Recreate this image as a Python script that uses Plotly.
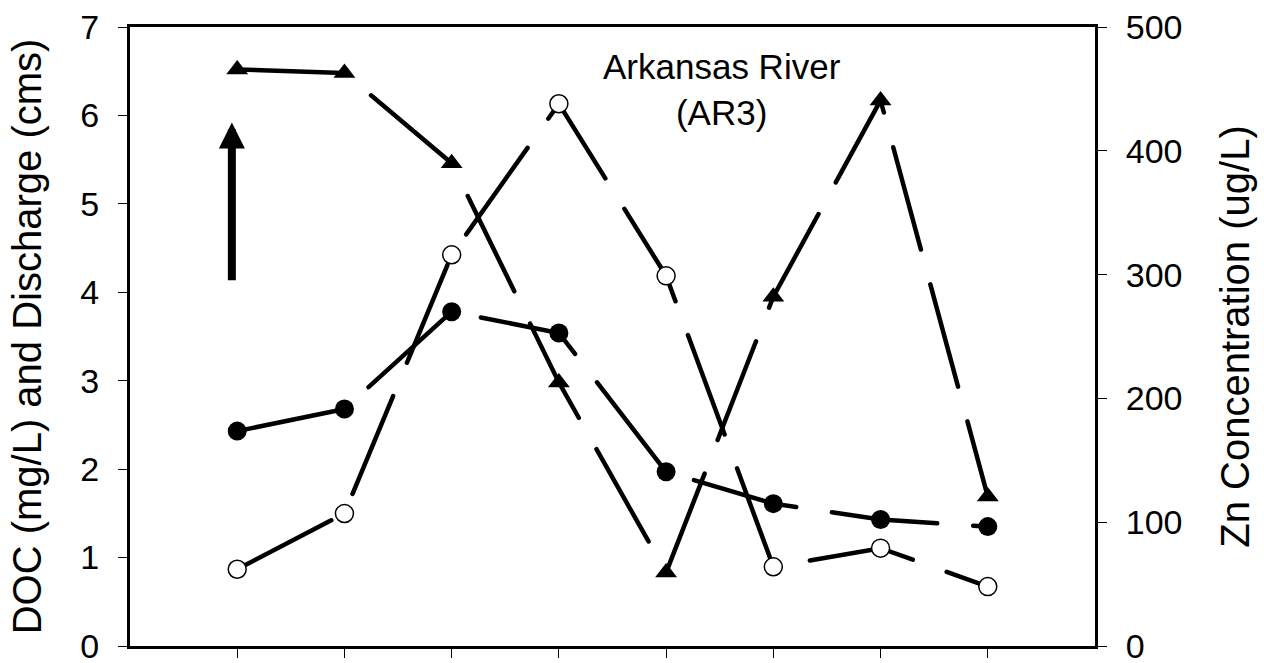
import plotly.graph_objects as go

# Sampling events (x positions, no labels shown)
events = [1, 2, 3, 4, 5, 6, 7, 8]

# DOC (mg/L) - filled circles, left axis
doc_mgL = [2.43, 2.68, 3.78, 3.54, 1.97, 1.61, 1.43, 1.35]

# Discharge (cms) - filled triangles, left axis
discharge_cms = [6.52, 6.48, 5.46, 2.98, 0.83, 3.95, 6.17, 1.69]

# Zn concentration (ug/L) - open circles, right axis
zn_ugL = [62, 107, 316, 438, 299, 64, 79, 48]

left_ticks = [0, 1, 2, 3, 4, 5, 6, 7]
right_ticks = [0, 100, 200, 300, 400, 500]

FONT = "Liberation Sans, Arial, sans-serif"
DASH = "106px,36px"

fig = go.Figure()

fig.add_trace(go.Scatter(
    x=events, y=zn_ugL, yaxis="y2", mode="lines+markers", name="Zn",
    line=dict(color="black", width=4.5, dash=DASH),
    marker=dict(symbol="circle", size=18, color="white",
                line=dict(color="black", width=1.5)),
))
fig.add_trace(go.Scatter(
    x=events, y=discharge_cms, mode="lines+markers", name="Discharge",
    line=dict(color="black", width=4.5, dash=DASH),
    marker=dict(symbol="triangle-up", size=19, color="black",
                line=dict(width=0)),
))
fig.add_trace(go.Scatter(
    x=events, y=doc_mgL, mode="lines+markers", name="DOC",
    line=dict(color="black", width=4.5, dash=DASH),
    marker=dict(symbol="circle", size=19, color="black",
                line=dict(width=0)),
))

fig.add_annotation(
    x=5.52, y=6.29, xref="x", yref="y",
    text="Arkansas River<br>(AR3)", showarrow=False,
    font=dict(family=FONT, size=35, color="black"),
)

fig.add_annotation(
    x=0.95, y=5.92, ax=0.95, ay=4.12, xref="x", yref="y",
    axref="x", ayref="y", text="", showarrow=True,
    arrowhead=2, arrowsize=0.65, arrowwidth=8, arrowcolor="black",
)

fig.update_layout(
    width=1264, height=663,
    margin=dict(l=130, r=169, t=27, b=17, autoexpand=False),
    paper_bgcolor="white", plot_bgcolor="white",
    showlegend=False,
    font=dict(family=FONT, color="black"),
    xaxis=dict(
        range=[0, 9], tickvals=events, showticklabels=False,
        ticks="outside", ticklen=9, tickwidth=1, tickcolor="black",
        showline=True, linewidth=3, linecolor="black", mirror=True,
        showgrid=False, zeroline=False, automargin=False,
    ),
    yaxis=dict(
        range=[0, 7], tickvals=left_ticks,
        ticks="outside", ticklen=9, tickwidth=1, tickcolor="black",
        showline=True, linewidth=3, linecolor="black",
        showgrid=False, zeroline=False, automargin=False,
        tickfont=dict(size=34, family=FONT),
        ticklabelstandoff=12, ticklabeloverflow="allow",
        title=dict(text="DOC (mg/L) and Discharge (cms)",
                   font=dict(size=40, family=FONT), standoff=27),
    ),
    yaxis2=dict(
        range=[0, 500], tickvals=right_ticks, overlaying="y", side="right",
        ticks="outside", ticklen=9, tickwidth=1, tickcolor="black",
        showline=True, linewidth=3, linecolor="black",
        showgrid=False, zeroline=False, automargin=False,
        tickfont=dict(size=34, family=FONT),
        ticklabelstandoff=12, ticklabeloverflow="allow",
        title=dict(text="Zn Concentration (ug/L)",
                   font=dict(size=40, family=FONT), standoff=40),
    ),
)

post = ("document.body.style.margin='0';"
        "document.querySelectorAll('path.js-line').forEach(function(p){"
        "p.style.strokeLinecap='round';});")
fig.write_html("out.html", post_script=post, config={"displayModeBar": False})
